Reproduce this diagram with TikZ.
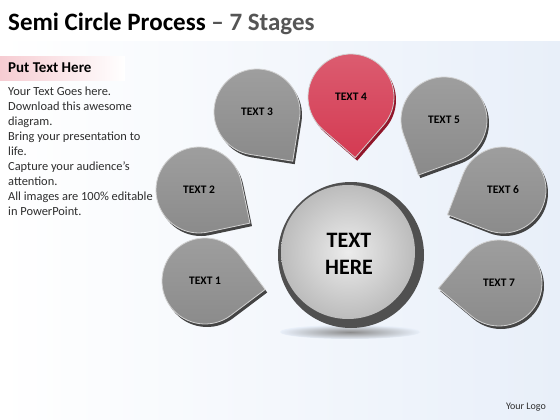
\documentclass[tikz,border=0pt]{standalone}
\usepackage{fontspec}
\setmainfont{Carlito}
\usepackage{xcolor}
\definecolor{TitleGray}{RGB}{85,85,85}
\definecolor{BodyGray}{RGB}{45,45,45}
\definecolor{HeaderPink}{RGB}{246,204,210}
\definecolor{BackBlue}{RGB}{232,239,249}
\definecolor{DropGray}{RGB}{138,138,138}
\definecolor{DropEdge}{RGB}{68,68,68}
\definecolor{DropRed}{RGB}{212,58,82}
\definecolor{RedEdge}{RGB}{145,22,42}
\definecolor{RingGray}{RGB}{80,80,80}
\definecolor{BallLight}{RGB}{236,236,236}
\definecolor{BallDark}{RGB}{188,188,188}
\usetikzlibrary{positioning}

% one stage: name, centre, tip angle, fill, edge, text
\newcommand{\stagedrop}[6]{%
	\fill[#5, shift={(#2)}, xshift=2pt, yshift=-3pt]
		(#3:60.8) -- ({#3+45}:43) arc[start angle={#3+45}, delta angle=270, radius=43] -- cycle;
	\shade[top color=#4!82!white, bottom color=#4, draw=white!65!gray, line width=0.8pt, shift={(#2)}]
		(#3:60.8) -- ({#3+45}:43) arc[start angle={#3+45}, delta angle=270, radius=43] -- cycle;
	\node[droplabel] (#1) at (#2) {#6};
}

\tikzset{
	droplabel/.style={font=\fontsize{11.5}{13}\selectfont\bfseries, text=black, inner sep=0pt},
	centerlabel/.style={font=\fontsize{22}{27}\selectfont\bfseries, text=black, align=center, inner sep=0pt},
	bodytext/.style={font=\fontsize{12.4}{15}\selectfont, text=BodyGray, align=left, inner sep=0pt}
}

\begin{document}
\begin{tikzpicture}[x=1pt, y=-1pt]

		\useasboundingbox (0,0) rectangle (560,420);

		% Background
		\fill[white] (0,0) rectangle (560,420);
		\shade[left color=white, right color=BackBlue] (0,42) rectangle (560,420);
		\shade[left color=HeaderPink, right color=white] (0,57) rectangle (125,81);

		% Title
		\node[anchor=base west, inner sep=0pt, font=\fontsize{25}{29}\selectfont\bfseries] (title) at (8,31)
			{Semi Circle Process \textcolor{TitleGray}{-- 7 Stages}};

		% Side text
		\node[anchor=base west, inner sep=0pt, font=\fontsize{15}{17}\selectfont\bfseries] (header) at (8,73) {Put Text Here};
		\node[bodytext, anchor=north west] (body) at (8,87)
			{Your Text Goes here.\\Download this awesome\\diagram.\\Bring your presentation to\\life.\\Capture your audience's\\attention.\\All images are 100\% editable\\in PowerPoint.};

		% Centre circle
		\shade[inner color=black!45, outer color=BackBlue] (350,332) ellipse [x radius=70, y radius=7];
		\fill[RingGray] (351,255) circle [radius=73];
		\shade[inner color=BallLight, outer color=BallDark] (348,252) circle [radius=67];
		\node[centerlabel] (centre) at (349,254) {TEXT\\HERE};

		% Stages
		\stagedrop{s1}{205,281}{8}{DropGray}{DropEdge}{TEXT 1}
		\stagedrop{s2}{199,190}{33}{DropGray}{DropEdge}{TEXT 2}
		\stagedrop{s3}{257,112}{54}{DropGray}{DropEdge}{TEXT 3}
		\stagedrop{s4}{351,97}{86}{DropRed}{RedEdge}{TEXT 4}
		\stagedrop{s5}{444,120}{115}{DropGray}{DropEdge}{TEXT 5}
		\stagedrop{s6}{503,190}{156}{DropGray}{DropEdge}{TEXT 6}
		\stagedrop{s7}{499,283}{175}{DropGray}{DropEdge}{TEXT 7}

		% Logo
		\node[anchor=base east, inner sep=0pt, font=\fontsize{10}{12}\selectfont, text=BodyGray] (logo) at (546,409) {Your Logo};

	\end{tikzpicture}
\end{document}
